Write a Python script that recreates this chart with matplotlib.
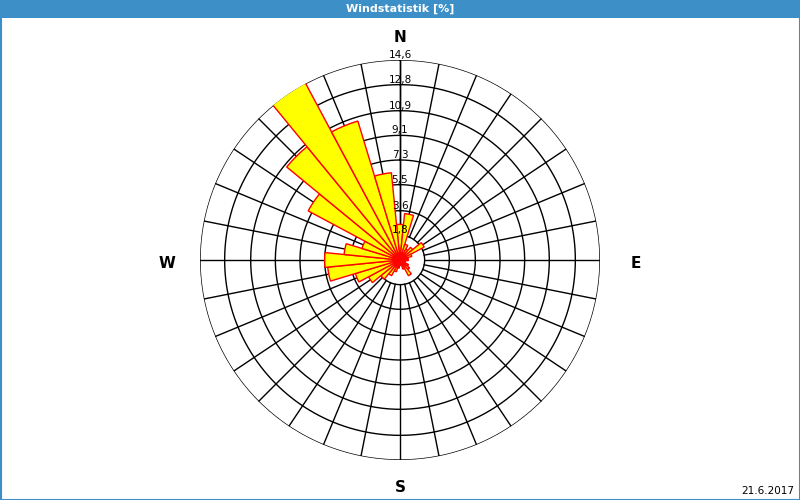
import numpy as np
import matplotlib
matplotlib.use("Agg")
import matplotlib.pyplot as plt

# 32 directions, 11.25 deg apart, clockwise from north; values in %
directions = np.arange(32) * 11.25
freq = [2.6, 3.4, 1.2, 0.9, 1.2, 2.0, 0.9, 0.6,
        0.6, 0.4, 0.4, 0.7, 0.9, 1.3, 0.7, 0.4,
        0.4, 0.6, 0.9, 1.3, 1.8, 2.6, 3.4, 5.3,
        5.5, 4.1, 2.9, 7.6, 10.7, 14.7, 10.6, 6.4]
ring_values = [1.8, 3.6, 5.5, 7.3, 9.1, 10.9, 12.8, 14.6]
rmax = 14.6
title = "Windstatistik [%]"
date_text = "21.6.2017"

fig = plt.figure(figsize=(8, 5), dpi=100)
fig.patch.set_facecolor("white")

# title bar and frame
fig.patches.append(plt.Rectangle((0, 1 - 18/500), 1, 18/500, transform=fig.transFigure,
                                 facecolor="#3d8fc7", edgecolor="none", zorder=0))
fig.patches.append(plt.Rectangle((0.5/800, 0.5/500), 1 - 1/800, 1 - 1/500, transform=fig.transFigure,
                                 facecolor="none", edgecolor="#3d8fc7", lw=1.5))
fig.text(0.5, 1 - 9/500, title, color="white", fontsize=8, fontweight="bold",
         ha="center", va="center")
fig.text(1 - 6/800, 9/500, date_text, fontsize=7.5, ha="right", va="center")

ax = fig.add_axes([200/800, 40/500, 400/800, 400/500], projection="polar")
ax.set_theta_zero_location("N")
ax.set_theta_direction(-1)
ax.set_ylim(0, rmax)
ax.grid(False)
ax.set_xticks([])
ax.set_yticks([])
ax.spines["polar"].set_visible(False)
ax.patch.set_alpha(0)

th = np.linspace(0, 2*np.pi, 400)
for rv in ring_values:
    ax.plot(th, np.full_like(th, rv), color="black", lw=1, zorder=1)
for d in directions:
    ax.plot([np.radians(d)] * 2, [ring_values[0], rmax], color="black", lw=1, zorder=1)
ax.plot([0, 0], [0, rmax], color="black", lw=1, zorder=1)

ax.bar(np.radians(directions), freq, width=np.radians(11.25), bottom=0,
       color="#ffff00", edgecolor="red", lw=1, zorder=2)

for rv in ring_values:
    ax.text(0, rv, f"{rv:.1f}".replace(".", ","), fontsize=7.5, ha="center",
            va="bottom", zorder=3)

for lab, x, y in [("N", 400, 38), ("S", 400, 488), ("W", 167, 264), ("E", 636, 264)]:
    fig.text(x/800, 1 - y/500, lab, fontsize=11, fontweight="bold", ha="center", va="center")

fig.savefig("out.png", dpi=100)
